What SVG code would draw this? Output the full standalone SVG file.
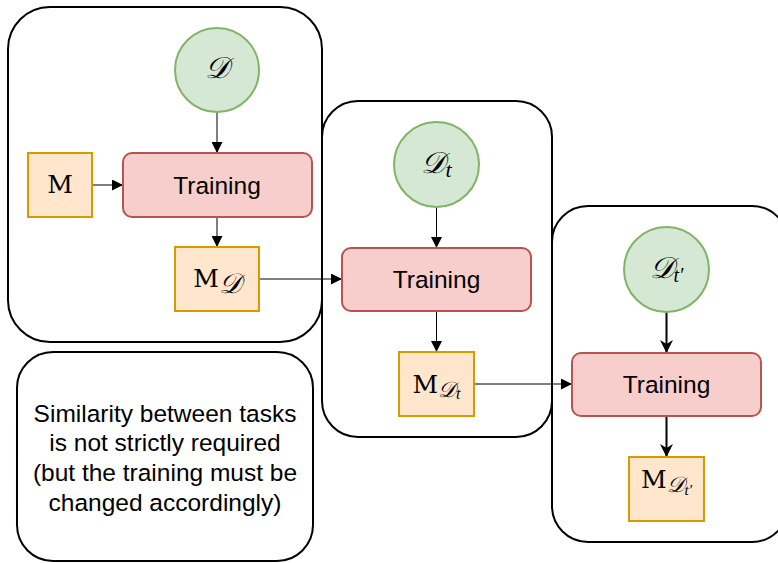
<svg xmlns="http://www.w3.org/2000/svg" width="778" height="563" viewBox="0 0 778 563">
  <style>
    .panel { fill: #ffffff; stroke: #000000; stroke-width: 2; }
    .data { fill: #d5e8d4; stroke: #82b366; stroke-width: 2; }
    .train { fill: #f8cecc; stroke: #b85450; stroke-width: 2; }
    .model { fill: #ffe6cc; stroke: #d79b00; stroke-width: 2; }
    .sans { font-family: "Liberation Sans", Arial, Helvetica, sans-serif; font-size: 24.5px; fill: #000000; text-anchor: middle; }
    .math { font-family: "DejaVu Serif", "Liberation Serif", serif; fill: #000000; text-anchor: middle; }
    .cal { font-family: "DejaVu Serif", "Liberation Serif", serif; font-style: italic; }
    .it { font-family: "Liberation Serif", "DejaVu Serif", serif; font-style: italic; }
    .edge { fill: none; stroke: #000000; stroke-width: 1; }
    .edge.bold { stroke-width: 2; }
  </style>
  <defs>
    <marker id="arrow" viewBox="0 0 10 10" refX="10" refY="5" markerWidth="11" markerHeight="11" markerUnits="userSpaceOnUse" orient="auto">
      <path d="M0,0 L10,5 L0,10 Z" fill="#000000"/>
    </marker>
    <marker id="arrowBold" viewBox="0 0 10 10" refX="10" refY="5" markerWidth="13" markerHeight="13" markerUnits="userSpaceOnUse" orient="auto">
      <path d="M0,0 L10,5 L0,10 L3,5 Z" fill="#000000"/>
    </marker>
  </defs>

  <!-- stage containers -->
  <g id="stage1">
    <rect class="panel" x="8" y="7" width="314" height="335" rx="42" ry="42"/>
  </g>
  <g id="stage2">
    <rect class="panel" x="322" y="101" width="230" height="336" rx="36" ry="36"/>
  </g>
  <g id="stage3">
    <rect class="panel" x="552" y="206" width="236" height="336" rx="36" ry="36"/>
  </g>
  <g id="note">
    <rect class="panel" x="17" y="352" width="296" height="209" rx="36" ry="36"/>
    <text class="sans" x="165" y="422">Similarity between tasks</text>
    <text class="sans" x="165" y="451">is not strictly required</text>
    <text class="sans" x="165" y="481">(but the training must be</text>
    <text class="sans" x="165" y="511">changed accordingly)</text>
  </g>

  <!-- connectors -->
  <g id="connectors">
    <line class="edge" x1="217" y1="112" x2="217" y2="153" marker-end="url(#arrow)"/>
    <line class="edge" x1="92" y1="185" x2="123" y2="185" marker-end="url(#arrow)"/>
    <line class="edge" x1="217" y1="217" x2="217" y2="247" marker-end="url(#arrow)"/>
    <line class="edge" x1="259" y1="279" x2="342" y2="279" marker-end="url(#arrow)"/>
    <line class="edge" x1="436.5" y1="207" x2="436.5" y2="248" marker-end="url(#arrow)"/>
    <line class="edge" x1="436.5" y1="311" x2="436.5" y2="352" marker-end="url(#arrow)"/>
    <line class="edge" x1="474" y1="384" x2="572" y2="384" marker-end="url(#arrow)"/>
    <line class="edge bold" x1="666.5" y1="312" x2="666.5" y2="353" marker-end="url(#arrowBold)"/>
    <line class="edge bold" x1="666.5" y1="416" x2="666.5" y2="457" marker-end="url(#arrowBold)"/>
  </g>

  <!-- stage 1 nodes -->
  <g id="data1">
    <circle class="data" cx="217" cy="70" r="42"/>
    <text class="math cal" x="217" y="78" font-size="30">𝒟</text>
  </g>
  <g id="model0">
    <rect class="model" x="28" y="153" width="64" height="64"/>
    <text class="math" x="60" y="193" font-size="25">M</text>
  </g>
  <g id="train1">
    <rect class="train" x="123" y="153" width="189" height="64" rx="9" ry="9"/>
    <text class="sans" x="217" y="194">Training</text>
  </g>
  <g id="model1">
    <rect class="model" x="175" y="247" width="84" height="64"/>
    <text class="math" x="217" y="287" font-size="25">M<tspan class="cal" font-size="28" dy="6">𝒟</tspan></text>
  </g>

  <!-- stage 2 nodes -->
  <g id="data2">
    <circle class="data" cx="436.5" cy="164.5" r="42.5"/>
    <text class="math" x="436.5" y="173" font-size="30"><tspan class="cal">𝒟</tspan><tspan class="it" font-size="22" dy="4">t</tspan></text>
  </g>
  <g id="train2">
    <rect class="train" x="342" y="248" width="189" height="63" rx="9" ry="9"/>
    <text class="sans" x="436.5" y="288">Training</text>
  </g>
  <g id="model2">
    <rect class="model" x="399" y="352" width="75" height="64"/>
    <text class="math" x="436.5" y="393" font-size="25">M<tspan class="cal" font-size="22" dy="4">𝒟</tspan><tspan class="it" font-size="16" dy="2">t</tspan></text>
  </g>

  <!-- stage 3 nodes -->
  <g id="data3">
    <circle class="data" cx="666.5" cy="269.5" r="42.5"/>
    <text class="math" x="666.5" y="278" font-size="30"><tspan class="cal">𝒟</tspan><tspan class="it" font-size="20" dy="4">t′</tspan></text>
  </g>
  <g id="train3">
    <rect class="train" x="572" y="353" width="189" height="63" rx="9" ry="9"/>
    <text class="sans" x="666.5" y="393">Training</text>
  </g>
  <g id="model3">
    <rect class="model" x="629" y="457" width="75" height="64"/>
    <text class="math" x="666.5" y="488" font-size="25">M<tspan class="cal" font-size="22" dy="4">𝒟</tspan><tspan class="it" font-size="15" dy="3">t′</tspan></text>
  </g>
</svg>
